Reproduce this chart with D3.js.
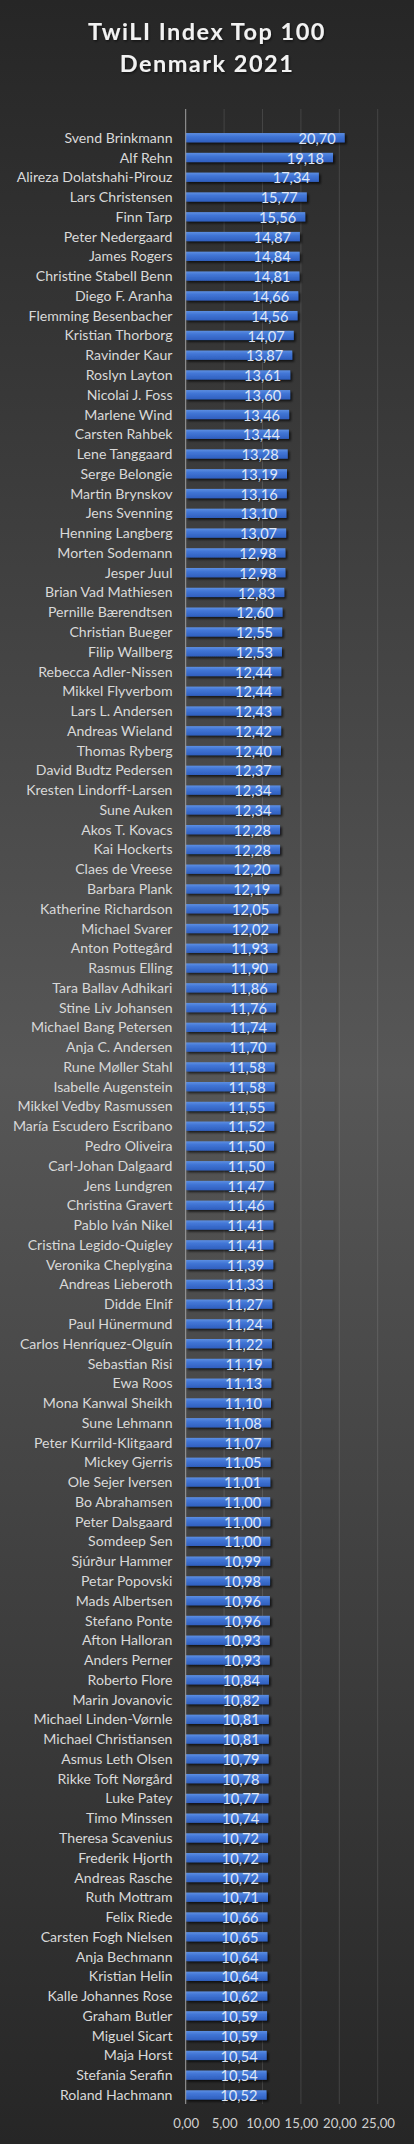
<!DOCTYPE html>
<html>
<head>
<meta charset="utf-8">
<script src="https://cdn.jsdelivr.net/npm/d3@7/dist/d3.min.js"></script>
<style>
  html, body { margin: 0; padding: 0; background: #262626; }
  svg { display: block; }
</style>
</head>
<body>
<svg id="chart" width="414" height="2144"></svg>
<script>
const names = [
  "Svend Brinkmann","Alf Rehn","Alireza Dolatshahi-Pirouz","Lars Christensen","Finn Tarp",
  "Peter Nedergaard","James Rogers","Christine Stabell Benn","Diego F. Aranha","Flemming Besenbacher",
  "Kristian Thorborg","Ravinder Kaur","Roslyn Layton","Nicolai J. Foss","Marlene Wind",
  "Carsten Rahbek","Lene Tanggaard","Serge Belongie","Martin Brynskov","Jens Svenning",
  "Henning Langberg","Morten Sodemann","Jesper Juul","Brian Vad Mathiesen","Pernille Bærendtsen",
  "Christian Bueger","Filip Wallberg","Rebecca Adler-Nissen","Mikkel Flyverbom","Lars L. Andersen",
  "Andreas Wieland","Thomas Ryberg","David Budtz Pedersen","Kresten Lindorff-Larsen","Sune Auken",
  "Akos T. Kovacs","Kai Hockerts","Claes de Vreese","Barbara Plank","Katherine Richardson",
  "Michael Svarer","Anton Pottegård","Rasmus Elling","Tara Ballav Adhikari","Stine Liv Johansen",
  "Michael Bang Petersen","Anja C. Andersen","Rune Møller Stahl","Isabelle Augenstein","Mikkel Vedby Rasmussen",
  "María Escudero Escribano","Pedro Oliveira","Carl-Johan Dalgaard","Jens Lundgren","Christina Gravert",
  "Pablo Iván Nikel","Cristina Legido-Quigley","Veronika Cheplygina","Andreas Lieberoth","Didde Elnif",
  "Paul Hünermund","Carlos Henríquez-Olguín","Sebastian Risi","Ewa Roos","Mona Kanwal Sheikh",
  "Sune Lehmann","Peter Kurrild-Klitgaard","Mickey Gjerris","Ole Sejer Iversen","Bo Abrahamsen",
  "Peter Dalsgaard","Somdeep Sen","Sjúrður Hammer","Petar Popovski","Mads Albertsen",
  "Stefano Ponte","Afton Halloran","Anders Perner","Roberto Flore","Marin Jovanovic",
  "Michael Linden-Vørnle","Michael Christiansen","Asmus Leth Olsen","Rikke Toft Nørgård","Luke Patey",
  "Timo Minssen","Theresa Scavenius","Frederik Hjorth","Andreas Rasche","Ruth Mottram",
  "Felix Riede","Carsten Fogh Nielsen","Anja Bechmann","Kristian Helin","Kalle Johannes Rose",
  "Graham Butler","Miguel Sicart","Maja Horst","Stefania Serafin","Roland Hachmann"
];
const values = [
  20.70,19.18,17.34,15.77,15.56,
  14.87,14.84,14.81,14.66,14.56,
  14.07,13.87,13.61,13.60,13.46,
  13.44,13.28,13.19,13.16,13.10,
  13.07,12.98,12.98,12.83,12.60,
  12.55,12.53,12.44,12.44,12.43,
  12.42,12.40,12.37,12.34,12.34,
  12.28,12.28,12.20,12.19,12.05,
  12.02,11.93,11.90,11.86,11.76,
  11.74,11.70,11.58,11.58,11.55,
  11.52,11.50,11.50,11.47,11.46,
  11.41,11.41,11.39,11.33,11.27,
  11.24,11.22,11.19,11.13,11.10,
  11.08,11.07,11.05,11.01,11.00,
  11.00,11.00,10.99,10.98,10.96,
  10.96,10.93,10.93,10.84,10.82,
  10.81,10.81,10.79,10.78,10.77,
  10.74,10.72,10.72,10.72,10.71,
  10.66,10.65,10.64,10.64,10.62,
  10.59,10.59,10.54,10.54,10.52
];
const xTicks = [0, 5, 10, 15, 20, 25];
const titleLines = ["TwiLI Index Top 100", "Denmark 2021"];

const W = 414, H = 2144;
const FONT = "Lato, 'Open Sans', sans-serif";
const svg = d3.select("#chart");
const defs = svg.append("defs");

const bg = defs.append("linearGradient").attr("id","bg").attr("x1",0).attr("y1",0).attr("x2",0).attr("y2",1);
bg.append("stop").attr("offset","0%").attr("stop-color","#262626");
bg.append("stop").attr("offset","50%").attr("stop-color","#575757");
bg.append("stop").attr("offset","100%").attr("stop-color","#262626");

const bar = defs.append("linearGradient").attr("id","bar").attr("x1",0).attr("y1",0).attr("x2",0).attr("y2",1);
bar.append("stop").attr("offset","0%").attr("stop-color","#5d8fe2");
bar.append("stop").attr("offset","35%").attr("stop-color","#4276d6");
bar.append("stop").attr("offset","100%").attr("stop-color","#2f5fbf");

const sh = defs.append("filter").attr("id","shadow").attr("x","-10%").attr("y","-50%").attr("width","130%").attr("height","250%");
sh.append("feDropShadow").attr("dx",2).attr("dy",2).attr("stdDeviation",1.3)
  .attr("flood-color","#000").attr("flood-opacity",0.65);

const ts = defs.append("filter").attr("id","tshadow").attr("x","-10%").attr("y","-30%").attr("width","130%").attr("height","160%");
ts.append("feDropShadow").attr("dx",1).attr("dy",1.5).attr("stdDeviation",1)
  .attr("flood-color","#000").attr("flood-opacity",0.5);

svg.append("rect").attr("width",W).attr("height",H).attr("fill","url(#bg)");

const x = d3.scaleLinear().domain([0,25]).range([185.7, 377.7]);
const y = d3.scaleBand().domain(names).range([127.8, 2104.8]).paddingInner(0.53).paddingOuter(0.265);

const loc = d3.formatLocale({decimal: ",", thousands: ".", grouping: [3], currency: ["", ""]});
const fmt = loc.format(".2f");

// title
svg.append("g").selectAll("text").data(titleLines).join("text")
  .attr("x", W/2).attr("y", (d,i) => 39.5 + i*32.5)
  .attr("text-anchor","middle")
  .attr("font-family", FONT).attr("font-weight", 700).attr("font-size", 23.5)
  .attr("letter-spacing", 1.5)
  .attr("fill","#f2f2f2").attr("filter","url(#tshadow)")
  .text(d => d);

// gridlines
svg.append("g").selectAll("line").data(xTicks.slice(1)).join("line")
  .attr("x1", d => x(d)).attr("x2", d => x(d))
  .attr("y1", 109).attr("y2", 2104)
  .attr("stroke", "rgba(255,255,255,0.12)").attr("stroke-width", 1);

// bars
svg.append("g").selectAll("rect").data(values).join("rect")
  .attr("x", x(0)).attr("y", (d,i) => y(names[i]))
  .attr("width", d => x(d) - x(0)).attr("height", y.bandwidth())
  .attr("fill", "url(#bar)").attr("filter", "url(#shadow)");

// category axis line
svg.append("line").attr("x1", x(0)).attr("x2", x(0)).attr("y1", 109).attr("y2", 2104)
  .attr("stroke", "#a0a0a0").attr("stroke-width", 1);

// category labels
svg.append("g").selectAll("text").data(names).join("text")
  .attr("x", 172.5).attr("y", d => y(d) + y.bandwidth()/2)
  .attr("dy", "0.36em")
  .attr("text-anchor", "end")
  .attr("font-family", FONT).attr("font-size", 14.1)
  .attr("fill", "#d9d9d9")
  .text(d => d);

// value labels
svg.append("g").selectAll("text").data(values).join("text")
  .attr("x", d => x(d) - 9).attr("y", (d,i) => y(names[i]) + y.bandwidth()/2)
  .attr("dy", "0.42em")
  .attr("text-anchor", "end")
  .attr("font-family", FONT).attr("font-size", 14.6)
  .attr("fill", "#dfe7f6")
  .text(d => fmt(d));

// x axis tick labels
const xAxis = d3.axisBottom(x).tickValues(xTicks).tickFormat(fmt).tickSize(0).tickPadding(0);
const gx = svg.append("g").attr("transform", "translate(0,2119)").call(xAxis);
gx.select(".domain").remove();
gx.selectAll("text").attr("font-family", FONT).attr("font-size", 13.2).attr("fill", "#d0d0d0");
</script>
</body>
</html>
